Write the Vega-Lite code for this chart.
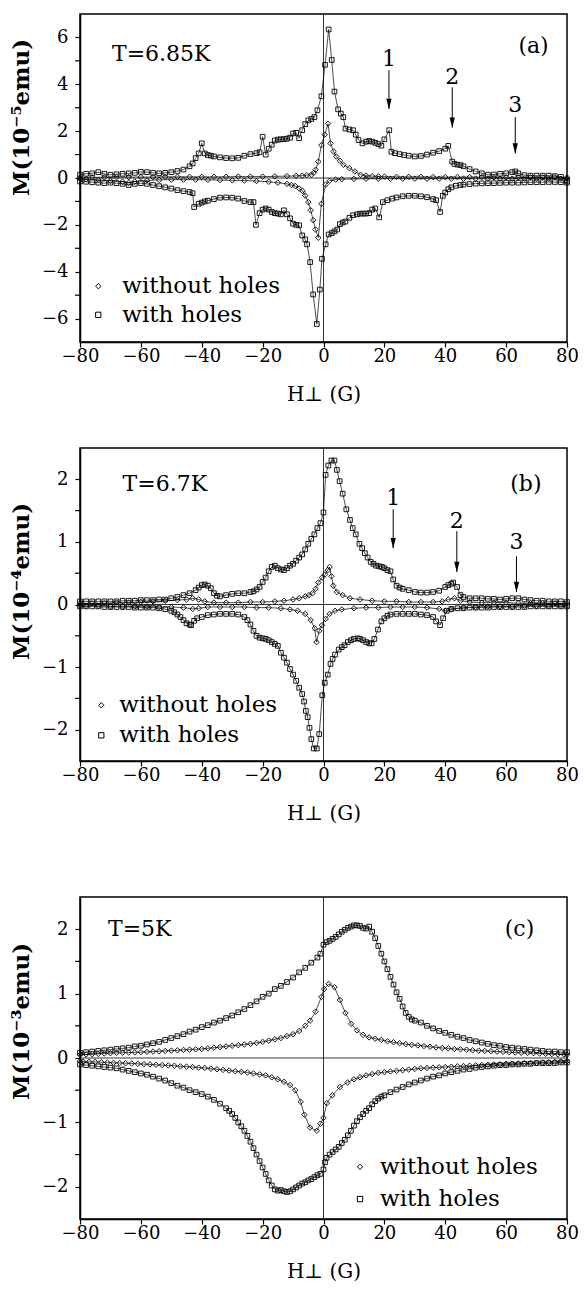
{
"$schema":"https://vega.github.io/schema/vega-lite/v6.json",
"background":"white",
"padding":{"left":9,"top":12,"right":0,"bottom":0},
"config":{
 "view":{"stroke":"black","strokeWidth":1.5},
 "axis":{"domainColor":"black","domainWidth":1.5,"tickColor":"black","tickWidth":1.2,"tickSize":5,"labelFont":"DejaVu Serif","labelFontSize":18,"labelColor":"black","labelPadding":0,"titleFont":"DejaVu Serif","titleColor":"black","titleFontSize":20,"titleFontWeight":"normal","grid":false,"labelFlush":false,"labelOverlap":false},
 "text":{"font":"DejaVu Serif","fontSize":22,"color":"black"}
},
"datasets":{
"a":[
{"k":"U","x":-80,"y":0.14},{"k":"U","x":-78,"y":0.18},{"k":"U","x":-76,"y":0.2},{"k":"U","x":-74,"y":0.25},{"k":"U","x":-72,"y":0.18},{"k":"U","x":-70,"y":0.14},{"k":"U","x":-68,"y":0.16},{"k":"U","x":-66,"y":0.18},{"k":"U","x":-64,"y":0.2},{"k":"U","x":-62,"y":0.22},{"k":"U","x":-60,"y":0.26},{"k":"U","x":-58,"y":0.25},{"k":"U","x":-56,"y":0.22},{"k":"U","x":-54,"y":0.2},{"k":"U","x":-52,"y":0.22},{"k":"U","x":-50,"y":0.25},{"k":"U","x":-48,"y":0.3},{"k":"U","x":-46,"y":0.36},{"k":"U","x":-44,"y":0.5},{"k":"U","x":-43,"y":0.62},{"k":"U","x":-42,"y":0.85},{"k":"U","x":-41,"y":1.05},{"k":"U","x":-40,"y":1.48},{"k":"U","x":-39,"y":1.05},{"k":"U","x":-38,"y":0.98},{"k":"U","x":-37,"y":0.95},{"k":"U","x":-36,"y":0.92},{"k":"U","x":-34,"y":0.88},{"k":"U","x":-32,"y":0.85},{"k":"U","x":-30,"y":0.84},{"k":"U","x":-28,"y":0.86},{"k":"U","x":-26,"y":0.95},{"k":"U","x":-24,"y":1.02},{"k":"U","x":-22,"y":1.06},{"k":"U","x":-21,"y":1.1},{"k":"U","x":-20,"y":1.76},{"k":"U","x":-19,"y":1.0},{"k":"U","x":-18,"y":1.25},{"k":"U","x":-17,"y":1.42},{"k":"U","x":-16,"y":1.6},{"k":"U","x":-15,"y":1.64},{"k":"U","x":-14,"y":1.65},{"k":"U","x":-13,"y":1.66},{"k":"U","x":-12,"y":1.68},{"k":"U","x":-11,"y":1.72},{"k":"U","x":-10,"y":1.9},{"k":"U","x":-9,"y":1.93},{"k":"U","x":-8,"y":1.7},{"k":"U","x":-7,"y":2.04},{"k":"U","x":-6,"y":2.3},{"k":"U","x":-5,"y":2.46},{"k":"U","x":-4,"y":2.52},{"k":"U","x":-3,"y":2.6},{"k":"U","x":-2,"y":2.89},{"k":"U","x":-0.7,"y":3.49},{"k":"U","x":0.5,"y":4.83},{"k":"U","x":1.7,"y":6.34},{"k":"U","x":2.7,"y":5.04},{"k":"U","x":3.6,"y":3.69},{"k":"U","x":4.8,"y":2.93},{"k":"U","x":5.7,"y":2.75},{"k":"U","x":6.5,"y":2.6},{"k":"U","x":7.2,"y":2.11},{"k":"U","x":8.5,"y":2.07},{"k":"U","x":9.7,"y":2.04},{"k":"U","x":10.6,"y":1.85},{"k":"U","x":11.5,"y":1.62},{"k":"U","x":12.8,"y":1.48},{"k":"U","x":14,"y":1.55},{"k":"U","x":15,"y":1.58},{"k":"U","x":16,"y":1.55},{"k":"U","x":17,"y":1.5},{"k":"U","x":18,"y":1.45},{"k":"U","x":19,"y":1.38},{"k":"U","x":20,"y":1.65},{"k":"U","x":21.6,"y":2.04},{"k":"U","x":22.3,"y":1.12},{"k":"U","x":23.5,"y":1.06},{"k":"U","x":25,"y":1.02},{"k":"U","x":26.5,"y":0.98},{"k":"U","x":28,"y":0.95},{"k":"U","x":30,"y":0.92},{"k":"U","x":32,"y":0.94},{"k":"U","x":34,"y":1.0},{"k":"U","x":36,"y":1.08},{"k":"U","x":38,"y":1.15},{"k":"U","x":40,"y":1.25},{"k":"U","x":41,"y":1.37},{"k":"U","x":42.3,"y":0.7},{"k":"U","x":43,"y":0.6},{"k":"U","x":44,"y":0.57},{"k":"U","x":45,"y":0.55},{"k":"U","x":46,"y":0.5},{"k":"U","x":48,"y":0.38},{"k":"U","x":50,"y":0.28},{"k":"U","x":52,"y":0.2},{"k":"U","x":54,"y":0.14},{"k":"U","x":56,"y":0.15},{"k":"U","x":58,"y":0.18},{"k":"U","x":60,"y":0.2},{"k":"U","x":62,"y":0.25},{"k":"U","x":63,"y":0.28},{"k":"U","x":64,"y":0.2},{"k":"U","x":66,"y":0.12},{"k":"U","x":68,"y":0.1},{"k":"U","x":70,"y":0.1},{"k":"U","x":72,"y":0.1},{"k":"U","x":74,"y":0.1},{"k":"U","x":76,"y":0.08},{"k":"U","x":78,"y":0.05},{"k":"U","x":80,"y":-0.12},
{"k":"D","x":-80,"y":-0.15},{"k":"D","x":-78,"y":-0.16},{"k":"D","x":-76,"y":-0.18},{"k":"D","x":-74,"y":-0.2},{"k":"D","x":-72,"y":-0.22},{"k":"D","x":-70,"y":-0.2},{"k":"D","x":-68,"y":-0.22},{"k":"D","x":-66,"y":-0.25},{"k":"D","x":-64,"y":-0.3},{"k":"D","x":-62,"y":-0.25},{"k":"D","x":-60,"y":-0.22},{"k":"D","x":-58,"y":-0.25},{"k":"D","x":-56,"y":-0.3},{"k":"D","x":-54,"y":-0.35},{"k":"D","x":-52,"y":-0.4},{"k":"D","x":-50,"y":-0.45},{"k":"D","x":-48,"y":-0.52},{"k":"D","x":-46,"y":-0.56},{"k":"D","x":-44,"y":-0.6},{"k":"D","x":-43,"y":-0.65},{"k":"D","x":-42.5,"y":-1.24},{"k":"D","x":-41,"y":-1.1},{"k":"D","x":-40,"y":-1.05},{"k":"D","x":-39,"y":-1.0},{"k":"D","x":-38,"y":-0.97},{"k":"D","x":-36,"y":-0.9},{"k":"D","x":-34,"y":-0.84},{"k":"D","x":-32,"y":-0.83},{"k":"D","x":-30,"y":-0.84},{"k":"D","x":-28,"y":-0.88},{"k":"D","x":-26,"y":-0.98},{"k":"D","x":-24,"y":-1.03},{"k":"D","x":-23,"y":-1.03},{"k":"D","x":-22.2,"y":-2.0},{"k":"D","x":-21,"y":-1.5},{"k":"D","x":-20,"y":-1.35},{"k":"D","x":-19,"y":-1.3},{"k":"D","x":-18,"y":-1.35},{"k":"D","x":-17,"y":-1.45},{"k":"D","x":-16,"y":-1.5},{"k":"D","x":-15,"y":-1.52},{"k":"D","x":-14,"y":-1.55},{"k":"D","x":-13,"y":-1.38},{"k":"D","x":-12,"y":-1.55},{"k":"D","x":-11,"y":-1.72},{"k":"D","x":-10,"y":-1.95},{"k":"D","x":-9,"y":-2.0},{"k":"D","x":-8,"y":-2.02},{"k":"D","x":-7,"y":-2.45},{"k":"D","x":-6,"y":-2.62},{"k":"D","x":-5.4,"y":-2.83},{"k":"D","x":-4.4,"y":-3.59},{"k":"D","x":-3.4,"y":-4.97},{"k":"D","x":-2.2,"y":-6.23},{"k":"D","x":-1.2,"y":-4.76},{"k":"D","x":-0.5,"y":-3.45},{"k":"D","x":0.7,"y":-2.83},{"k":"D","x":1.7,"y":-2.41},{"k":"D","x":2.7,"y":-2.35},{"k":"D","x":3.6,"y":-2.28},{"k":"D","x":4.5,"y":-2.2},{"k":"D","x":5.4,"y":-1.97},{"k":"D","x":6.3,"y":-1.9},{"k":"D","x":7.2,"y":-1.86},{"k":"D","x":8.5,"y":-1.7},{"k":"D","x":9.7,"y":-1.59},{"k":"D","x":11,"y":-1.55},{"k":"D","x":12,"y":-1.52},{"k":"D","x":13,"y":-1.52},{"k":"D","x":14,"y":-1.52},{"k":"D","x":15,"y":-1.5},{"k":"D","x":16,"y":-1.35},{"k":"D","x":17,"y":-1.3},{"k":"D","x":18.3,"y":-1.68},{"k":"D","x":19.5,"y":-1.03},{"k":"D","x":21,"y":-0.95},{"k":"D","x":22.6,"y":-0.88},{"k":"D","x":24,"y":-0.83},{"k":"D","x":26,"y":-0.78},{"k":"D","x":28,"y":-0.76},{"k":"D","x":30,"y":-0.76},{"k":"D","x":32,"y":-0.78},{"k":"D","x":34,"y":-0.82},{"k":"D","x":36,"y":-0.9},{"k":"D","x":37,"y":-0.95},{"k":"D","x":38.3,"y":-1.45},{"k":"D","x":39.2,"y":-0.76},{"k":"D","x":40,"y":-0.62},{"k":"D","x":41,"y":-0.48},{"k":"D","x":42,"y":-0.4},{"k":"D","x":43.5,"y":-0.33},{"k":"D","x":45,"y":-0.3},{"k":"D","x":46,"y":-0.28},{"k":"D","x":48,"y":-0.26},{"k":"D","x":50,"y":-0.24},{"k":"D","x":52,"y":-0.23},{"k":"D","x":54,"y":-0.22},{"k":"D","x":56,"y":-0.22},{"k":"D","x":58,"y":-0.21},{"k":"D","x":60,"y":-0.2},{"k":"D","x":62,"y":-0.2},{"k":"D","x":64,"y":-0.2},{"k":"D","x":66,"y":-0.19},{"k":"D","x":68,"y":-0.18},{"k":"D","x":70,"y":-0.18},{"k":"D","x":72,"y":-0.18},{"k":"D","x":74,"y":-0.17},{"k":"D","x":76,"y":-0.17},{"k":"D","x":78,"y":-0.18},{"k":"D","x":80,"y":-0.2},
{"k":"u","x":-80,"y":0.03},{"k":"u","x":-76,"y":0.03},{"k":"u","x":-72,"y":0.03},{"k":"u","x":-68,"y":0.04},{"k":"u","x":-64,"y":0.04},{"k":"u","x":-60,"y":0.04},{"k":"u","x":-56,"y":0.04},{"k":"u","x":-52,"y":0.05},{"k":"u","x":-48,"y":0.05},{"k":"u","x":-44,"y":0.05},{"k":"u","x":-40,"y":0.05},{"k":"u","x":-36,"y":0.05},{"k":"u","x":-32,"y":0.05},{"k":"u","x":-28,"y":0.06},{"k":"u","x":-24,"y":0.06},{"k":"u","x":-20,"y":0.06},{"k":"u","x":-16,"y":0.07},{"k":"u","x":-12,"y":0.08},{"k":"u","x":-9,"y":0.09},{"k":"u","x":-7,"y":0.1},{"k":"u","x":-5.5,"y":0.12},{"k":"u","x":-4,"y":0.14},{"k":"u","x":-3.2,"y":0.22},{"k":"u","x":-2.6,"y":0.35},{"k":"u","x":-1.7,"y":0.7},{"k":"u","x":-0.7,"y":1.4},{"k":"u","x":0.4,"y":1.85},{"k":"u","x":1.5,"y":2.32},{"k":"u","x":2.3,"y":1.48},{"k":"u","x":3.3,"y":1.13},{"k":"u","x":4.2,"y":0.92},{"k":"u","x":5.4,"y":0.73},{"k":"u","x":6.6,"y":0.56},{"k":"u","x":8.5,"y":0.42},{"k":"u","x":10.3,"y":0.28},{"k":"u","x":12.2,"y":0.14},{"k":"u","x":14,"y":0.1},{"k":"u","x":16,"y":0.08},{"k":"u","x":18,"y":0.07},{"k":"u","x":20,"y":0.06},{"k":"u","x":24,"y":0.05},{"k":"u","x":28,"y":0.05},{"k":"u","x":32,"y":0.05},{"k":"u","x":36,"y":0.04},{"k":"u","x":40,"y":0.04},{"k":"u","x":44,"y":0.04},{"k":"u","x":48,"y":0.04},{"k":"u","x":52,"y":0.04},{"k":"u","x":56,"y":0.03},{"k":"u","x":60,"y":0.03},{"k":"u","x":64,"y":0.03},{"k":"u","x":68,"y":0.03},{"k":"u","x":72,"y":0.03},{"k":"u","x":76,"y":0.03},{"k":"u","x":80,"y":0.03},
{"k":"d","x":-80,"y":-0.04},{"k":"d","x":-78,"y":-0.05},{"k":"d","x":-74,"y":-0.08},{"k":"d","x":-70,"y":-0.12},{"k":"d","x":-66,"y":-0.16},{"k":"d","x":-64,"y":-0.2},{"k":"d","x":-62,"y":-0.15},{"k":"d","x":-58,"y":-0.1},{"k":"d","x":-54,"y":-0.08},{"k":"d","x":-50,"y":-0.07},{"k":"d","x":-46,"y":-0.07},{"k":"d","x":-42,"y":-0.07},{"k":"d","x":-38,"y":-0.08},{"k":"d","x":-34,"y":-0.09},{"k":"d","x":-30,"y":-0.1},{"k":"d","x":-26,"y":-0.11},{"k":"d","x":-22,"y":-0.13},{"k":"d","x":-18,"y":-0.16},{"k":"d","x":-15,"y":-0.2},{"k":"d","x":-12,"y":-0.25},{"k":"d","x":-10.5,"y":-0.3},{"k":"d","x":-9.3,"y":-0.34},{"k":"d","x":-8,"y":-0.45},{"k":"d","x":-6.9,"y":-0.55},{"k":"d","x":-6,"y":-0.75},{"k":"d","x":-5,"y":-1.03},{"k":"d","x":-4.2,"y":-1.38},{"k":"d","x":-3.4,"y":-1.8},{"k":"d","x":-2.6,"y":-2.2},{"k":"d","x":-1.7,"y":-2.55},{"k":"d","x":-0.7,"y":-1.1},{"k":"d","x":0.7,"y":-0.28},{"k":"d","x":2,"y":-0.12},{"k":"d","x":4,"y":-0.07},{"k":"d","x":6,"y":-0.05},{"k":"d","x":10,"y":-0.04},{"k":"d","x":14,"y":-0.03},{"k":"d","x":18,"y":-0.03},{"k":"d","x":22,"y":-0.03},{"k":"d","x":26,"y":-0.03},{"k":"d","x":30,"y":-0.03},{"k":"d","x":34,"y":-0.03},{"k":"d","x":38,"y":-0.03},{"k":"d","x":42,"y":-0.03},{"k":"d","x":46,"y":-0.03},{"k":"d","x":50,"y":-0.03},{"k":"d","x":54,"y":-0.03},{"k":"d","x":58,"y":-0.03},{"k":"d","x":62,"y":-0.03},{"k":"d","x":66,"y":-0.03},{"k":"d","x":70,"y":-0.03},{"k":"d","x":74,"y":-0.03},{"k":"d","x":78,"y":-0.03},{"k":"d","x":80,"y":-0.03}
],
"b":[
{"k":"U","x":-80,"y":0.05},{"k":"U","x":-78,"y":0.05},{"k":"U","x":-76,"y":0.05},{"k":"U","x":-74,"y":0.05},{"k":"U","x":-72,"y":0.05},{"k":"U","x":-70,"y":0.05},{"k":"U","x":-68,"y":0.05},{"k":"U","x":-66,"y":0.06},{"k":"U","x":-64,"y":0.06},{"k":"U","x":-62,"y":0.06},{"k":"U","x":-60,"y":0.07},{"k":"U","x":-58,"y":0.07},{"k":"U","x":-56,"y":0.07},{"k":"U","x":-54,"y":0.08},{"k":"U","x":-52,"y":0.08},{"k":"U","x":-50,"y":0.1},{"k":"U","x":-48,"y":0.12},{"k":"U","x":-46,"y":0.15},{"k":"U","x":-44,"y":0.18},{"k":"U","x":-42,"y":0.23},{"k":"U","x":-41,"y":0.27},{"k":"U","x":-40,"y":0.31},{"k":"U","x":-39,"y":0.32},{"k":"U","x":-38,"y":0.3},{"k":"U","x":-37,"y":0.26},{"k":"U","x":-36,"y":0.18},{"k":"U","x":-35,"y":0.14},{"k":"U","x":-34,"y":0.13},{"k":"U","x":-32,"y":0.15},{"k":"U","x":-30,"y":0.17},{"k":"U","x":-28,"y":0.18},{"k":"U","x":-26,"y":0.18},{"k":"U","x":-24,"y":0.2},{"k":"U","x":-23,"y":0.21},{"k":"U","x":-22,"y":0.24},{"k":"U","x":-21,"y":0.28},{"k":"U","x":-20,"y":0.36},{"k":"U","x":-19,"y":0.43},{"k":"U","x":-18,"y":0.53},{"k":"U","x":-17,"y":0.6},{"k":"U","x":-16,"y":0.62},{"k":"U","x":-15,"y":0.58},{"k":"U","x":-14,"y":0.56},{"k":"U","x":-13,"y":0.55},{"k":"U","x":-12,"y":0.58},{"k":"U","x":-11,"y":0.62},{"k":"U","x":-10,"y":0.65},{"k":"U","x":-9,"y":0.7},{"k":"U","x":-8,"y":0.75},{"k":"U","x":-7,"y":0.8},{"k":"U","x":-6,"y":0.88},{"k":"U","x":-5,"y":0.97},{"k":"U","x":-4,"y":1.05},{"k":"U","x":-3,"y":1.12},{"k":"U","x":-2,"y":1.22},{"k":"U","x":-1,"y":1.3},{"k":"U","x":0,"y":1.47},{"k":"U","x":0.7,"y":2.07},{"k":"U","x":1.6,"y":2.22},{"k":"U","x":2.6,"y":2.3},{"k":"U","x":3.6,"y":2.3},{"k":"U","x":4.4,"y":2.15},{"k":"U","x":5.3,"y":1.97},{"k":"U","x":6.3,"y":1.77},{"k":"U","x":7.5,"y":1.52},{"k":"U","x":8.7,"y":1.35},{"k":"U","x":9.6,"y":1.22},{"k":"U","x":10.6,"y":1.12},{"k":"U","x":11.8,"y":0.97},{"k":"U","x":12.7,"y":0.9},{"k":"U","x":13.6,"y":0.82},{"k":"U","x":14.5,"y":0.75},{"k":"U","x":15.5,"y":0.68},{"k":"U","x":16.4,"y":0.65},{"k":"U","x":17.3,"y":0.62},{"k":"U","x":18.3,"y":0.61},{"k":"U","x":19.2,"y":0.6},{"k":"U","x":20,"y":0.58},{"k":"U","x":21,"y":0.55},{"k":"U","x":22,"y":0.53},{"k":"U","x":22.9,"y":0.4},{"k":"U","x":24,"y":0.3},{"k":"U","x":25,"y":0.27},{"k":"U","x":26,"y":0.25},{"k":"U","x":28,"y":0.23},{"k":"U","x":30,"y":0.2},{"k":"U","x":32,"y":0.19},{"k":"U","x":34,"y":0.19},{"k":"U","x":36,"y":0.2},{"k":"U","x":38,"y":0.22},{"k":"U","x":40,"y":0.28},{"k":"U","x":41,"y":0.31},{"k":"U","x":42,"y":0.33},{"k":"U","x":42.6,"y":0.35},{"k":"U","x":43.9,"y":0.28},{"k":"U","x":45,"y":0.15},{"k":"U","x":46,"y":0.12},{"k":"U","x":48,"y":0.1},{"k":"U","x":50,"y":0.1},{"k":"U","x":52,"y":0.1},{"k":"U","x":54,"y":0.09},{"k":"U","x":56,"y":0.09},{"k":"U","x":58,"y":0.08},{"k":"U","x":60,"y":0.09},{"k":"U","x":62,"y":0.1},{"k":"U","x":64,"y":0.1},{"k":"U","x":66,"y":0.08},{"k":"U","x":68,"y":0.07},{"k":"U","x":70,"y":0.06},{"k":"U","x":72,"y":0.06},{"k":"U","x":74,"y":0.05},{"k":"U","x":76,"y":0.05},{"k":"U","x":78,"y":0.05},{"k":"U","x":80,"y":0.04},
{"k":"D","x":-80,"y":-0.03},{"k":"D","x":-78,"y":-0.03},{"k":"D","x":-76,"y":-0.03},{"k":"D","x":-74,"y":-0.03},{"k":"D","x":-72,"y":-0.04},{"k":"D","x":-70,"y":-0.04},{"k":"D","x":-68,"y":-0.04},{"k":"D","x":-66,"y":-0.04},{"k":"D","x":-64,"y":-0.04},{"k":"D","x":-62,"y":-0.05},{"k":"D","x":-60,"y":-0.05},{"k":"D","x":-58,"y":-0.05},{"k":"D","x":-56,"y":-0.05},{"k":"D","x":-54,"y":-0.06},{"k":"D","x":-52,"y":-0.075},{"k":"D","x":-50,"y":-0.1},{"k":"D","x":-49,"y":-0.125},{"k":"D","x":-48,"y":-0.16},{"k":"D","x":-47,"y":-0.2},{"k":"D","x":-46,"y":-0.25},{"k":"D","x":-45,"y":-0.3},{"k":"D","x":-44,"y":-0.32},{"k":"D","x":-43.5,"y":-0.33},{"k":"D","x":-42.5,"y":-0.26},{"k":"D","x":-41.5,"y":-0.22},{"k":"D","x":-40,"y":-0.2},{"k":"D","x":-38,"y":-0.17},{"k":"D","x":-36,"y":-0.16},{"k":"D","x":-34,"y":-0.15},{"k":"D","x":-32,"y":-0.15},{"k":"D","x":-30,"y":-0.15},{"k":"D","x":-28,"y":-0.16},{"k":"D","x":-26,"y":-0.2},{"k":"D","x":-25,"y":-0.25},{"k":"D","x":-24,"y":-0.32},{"k":"D","x":-23,"y":-0.42},{"k":"D","x":-22,"y":-0.5},{"k":"D","x":-21,"y":-0.53},{"k":"D","x":-20,"y":-0.54},{"k":"D","x":-19,"y":-0.55},{"k":"D","x":-18,"y":-0.57},{"k":"D","x":-17,"y":-0.6},{"k":"D","x":-16,"y":-0.63},{"k":"D","x":-15,"y":-0.66},{"k":"D","x":-14,"y":-0.77},{"k":"D","x":-13,"y":-0.85},{"k":"D","x":-12,"y":-0.93},{"k":"D","x":-11,"y":-1.03},{"k":"D","x":-10,"y":-1.12},{"k":"D","x":-9,"y":-1.22},{"k":"D","x":-8,"y":-1.33},{"k":"D","x":-7,"y":-1.43},{"k":"D","x":-6.4,"y":-1.55},{"k":"D","x":-5.8,"y":-1.7},{"k":"D","x":-5.2,"y":-1.8},{"k":"D","x":-4.6,"y":-1.97},{"k":"D","x":-4,"y":-2.15},{"k":"D","x":-3.2,"y":-2.3},{"k":"D","x":-2.2,"y":-2.3},{"k":"D","x":-1.4,"y":-2.07},{"k":"D","x":-0.4,"y":-1.45},{"k":"D","x":0.4,"y":-1.25},{"k":"D","x":1.4,"y":-1.12},{"k":"D","x":2.3,"y":-0.95},{"k":"D","x":3,"y":-0.87},{"k":"D","x":3.8,"y":-0.8},{"k":"D","x":5,"y":-0.72},{"k":"D","x":6,"y":-0.68},{"k":"D","x":6.9,"y":-0.65},{"k":"D","x":8,"y":-0.6},{"k":"D","x":9,"y":-0.57},{"k":"D","x":10,"y":-0.55},{"k":"D","x":11.2,"y":-0.54},{"k":"D","x":12,"y":-0.55},{"k":"D","x":13,"y":-0.57},{"k":"D","x":14,"y":-0.6},{"k":"D","x":15,"y":-0.62},{"k":"D","x":15.8,"y":-0.62},{"k":"D","x":16.7,"y":-0.55},{"k":"D","x":17.9,"y":-0.4},{"k":"D","x":19,"y":-0.27},{"k":"D","x":20,"y":-0.22},{"k":"D","x":21,"y":-0.18},{"k":"D","x":22,"y":-0.16},{"k":"D","x":24,"y":-0.15},{"k":"D","x":26,"y":-0.15},{"k":"D","x":28,"y":-0.15},{"k":"D","x":30,"y":-0.15},{"k":"D","x":32,"y":-0.16},{"k":"D","x":34,"y":-0.17},{"k":"D","x":36,"y":-0.2},{"k":"D","x":37,"y":-0.27},{"k":"D","x":38.3,"y":-0.33},{"k":"D","x":39.3,"y":-0.22},{"k":"D","x":40.5,"y":-0.1},{"k":"D","x":42,"y":-0.07},{"k":"D","x":44,"y":-0.06},{"k":"D","x":46,"y":-0.06},{"k":"D","x":48,"y":-0.05},{"k":"D","x":50,"y":-0.05},{"k":"D","x":52,"y":-0.05},{"k":"D","x":54,"y":-0.05},{"k":"D","x":56,"y":-0.04},{"k":"D","x":58,"y":-0.04},{"k":"D","x":60,"y":-0.04},{"k":"D","x":62,"y":-0.04},{"k":"D","x":64,"y":-0.04},{"k":"D","x":66,"y":-0.04},{"k":"D","x":68,"y":-0.03},{"k":"D","x":70,"y":-0.03},{"k":"D","x":72,"y":-0.03},{"k":"D","x":74,"y":-0.03},{"k":"D","x":76,"y":-0.03},{"k":"D","x":78,"y":-0.03},{"k":"D","x":80,"y":-0.03},
{"k":"u","x":-80,"y":0.02},{"k":"u","x":-76,"y":0.02},{"k":"u","x":-72,"y":0.02},{"k":"u","x":-68,"y":0.03},{"k":"u","x":-64,"y":0.03},{"k":"u","x":-60,"y":0.04},{"k":"u","x":-56,"y":0.05},{"k":"u","x":-52,"y":0.06},{"k":"u","x":-48,"y":0.07},{"k":"u","x":-45,"y":0.08},{"k":"u","x":-43,"y":0.1},{"k":"u","x":-41,"y":0.08},{"k":"u","x":-39,"y":0.05},{"k":"u","x":-36,"y":0.03},{"k":"u","x":-32,"y":0.03},{"k":"u","x":-28,"y":0.03},{"k":"u","x":-24,"y":0.04},{"k":"u","x":-20,"y":0.04},{"k":"u","x":-16,"y":0.05},{"k":"u","x":-13,"y":0.06},{"k":"u","x":-10,"y":0.08},{"k":"u","x":-8,"y":0.1},{"k":"u","x":-6,"y":0.13},{"k":"u","x":-4.8,"y":0.15},{"k":"u","x":-3.6,"y":0.18},{"k":"u","x":-2.6,"y":0.25},{"k":"u","x":-1.7,"y":0.35},{"k":"u","x":-0.5,"y":0.43},{"k":"u","x":0.5,"y":0.48},{"k":"u","x":1.4,"y":0.55},{"k":"u","x":2,"y":0.6},{"k":"u","x":2.6,"y":0.45},{"k":"u","x":3.2,"y":0.3},{"k":"u","x":4.4,"y":0.2},{"k":"u","x":6.3,"y":0.15},{"k":"u","x":8.7,"y":0.1},{"k":"u","x":12,"y":0.08},{"k":"u","x":16,"y":0.06},{"k":"u","x":20,"y":0.05},{"k":"u","x":24,"y":0.05},{"k":"u","x":28,"y":0.04},{"k":"u","x":32,"y":0.04},{"k":"u","x":36,"y":0.04},{"k":"u","x":39,"y":0.05},{"k":"u","x":41,"y":0.08},{"k":"u","x":43,"y":0.1},{"k":"u","x":45,"y":0.06},{"k":"u","x":48,"y":0.04},{"k":"u","x":52,"y":0.03},{"k":"u","x":56,"y":0.03},{"k":"u","x":60,"y":0.03},{"k":"u","x":64,"y":0.02},{"k":"u","x":68,"y":0.02},{"k":"u","x":72,"y":0.02},{"k":"u","x":76,"y":0.02},{"k":"u","x":80,"y":0.02},
{"k":"d","x":-80,"y":-0.02},{"k":"d","x":-78,"y":-0.02},{"k":"d","x":-74,"y":-0.02},{"k":"d","x":-70,"y":-0.03},{"k":"d","x":-66,"y":-0.03},{"k":"d","x":-62,"y":-0.03},{"k":"d","x":-58,"y":-0.03},{"k":"d","x":-54,"y":-0.04},{"k":"d","x":-50,"y":-0.04},{"k":"d","x":-46,"y":-0.05},{"k":"d","x":-43,"y":-0.07},{"k":"d","x":-41,"y":-0.06},{"k":"d","x":-38,"y":-0.04},{"k":"d","x":-34,"y":-0.04},{"k":"d","x":-30,"y":-0.04},{"k":"d","x":-26,"y":-0.04},{"k":"d","x":-22,"y":-0.05},{"k":"d","x":-18,"y":-0.05},{"k":"d","x":-14,"y":-0.06},{"k":"d","x":-11,"y":-0.08},{"k":"d","x":-8.5,"y":-0.1},{"k":"d","x":-6,"y":-0.15},{"k":"d","x":-4.2,"y":-0.25},{"k":"d","x":-2.9,"y":-0.38},{"k":"d","x":-2.3,"y":-0.6},{"k":"d","x":-1.4,"y":-0.42},{"k":"d","x":-0.5,"y":-0.33},{"k":"d","x":0.7,"y":-0.23},{"k":"d","x":2,"y":-0.15},{"k":"d","x":3.8,"y":-0.1},{"k":"d","x":6,"y":-0.08},{"k":"d","x":10,"y":-0.06},{"k":"d","x":14,"y":-0.05},{"k":"d","x":18,"y":-0.05},{"k":"d","x":22,"y":-0.04},{"k":"d","x":26,"y":-0.04},{"k":"d","x":30,"y":-0.04},{"k":"d","x":34,"y":-0.05},{"k":"d","x":38,"y":-0.07},{"k":"d","x":40,"y":-0.1},{"k":"d","x":42,"y":-0.08},{"k":"d","x":46,"y":-0.05},{"k":"d","x":50,"y":-0.04},{"k":"d","x":54,"y":-0.03},{"k":"d","x":58,"y":-0.03},{"k":"d","x":62,"y":-0.03},{"k":"d","x":66,"y":-0.02},{"k":"d","x":70,"y":-0.02},{"k":"d","x":74,"y":-0.02},{"k":"d","x":78,"y":-0.02},{"k":"d","x":80,"y":-0.02}
],
"c":[
{"k":"U","x":-80,"y":0.08},{"k":"U","x":-78,"y":0.09},{"k":"U","x":-76,"y":0.1},{"k":"U","x":-74,"y":0.11},{"k":"U","x":-72,"y":0.12},{"k":"U","x":-70,"y":0.13},{"k":"U","x":-68,"y":0.14},{"k":"U","x":-66,"y":0.15},{"k":"U","x":-64,"y":0.16},{"k":"U","x":-62,"y":0.18},{"k":"U","x":-60,"y":0.19},{"k":"U","x":-58,"y":0.21},{"k":"U","x":-56,"y":0.23},{"k":"U","x":-54,"y":0.25},{"k":"U","x":-52,"y":0.28},{"k":"U","x":-50,"y":0.31},{"k":"U","x":-48,"y":0.34},{"k":"U","x":-46,"y":0.37},{"k":"U","x":-44,"y":0.41},{"k":"U","x":-42,"y":0.44},{"k":"U","x":-40,"y":0.48},{"k":"U","x":-38,"y":0.51},{"k":"U","x":-36,"y":0.55},{"k":"U","x":-34,"y":0.58},{"k":"U","x":-32,"y":0.62},{"k":"U","x":-30,"y":0.66},{"k":"U","x":-28,"y":0.71},{"k":"U","x":-26,"y":0.76},{"k":"U","x":-24,"y":0.82},{"k":"U","x":-22,"y":0.88},{"k":"U","x":-20,"y":0.95},{"k":"U","x":-18,"y":1.0},{"k":"U","x":-16,"y":1.07},{"k":"U","x":-14,"y":1.12},{"k":"U","x":-12,"y":1.18},{"k":"U","x":-10,"y":1.25},{"k":"U","x":-8,"y":1.33},{"k":"U","x":-6,"y":1.4},{"k":"U","x":-4,"y":1.48},{"k":"U","x":-2,"y":1.56},{"k":"U","x":-1,"y":1.62},{"k":"U","x":0,"y":1.76},{"k":"U","x":1,"y":1.8},{"k":"U","x":2,"y":1.82},{"k":"U","x":3,"y":1.85},{"k":"U","x":4,"y":1.88},{"k":"U","x":5,"y":1.92},{"k":"U","x":6,"y":1.96},{"k":"U","x":7,"y":1.99},{"k":"U","x":8,"y":2.02},{"k":"U","x":9,"y":2.04},{"k":"U","x":10,"y":2.06},{"k":"U","x":11,"y":2.06},{"k":"U","x":12,"y":2.05},{"k":"U","x":13,"y":2.02},{"k":"U","x":14,"y":2.01},{"k":"U","x":15,"y":2.04},{"k":"U","x":16,"y":1.96},{"k":"U","x":17,"y":1.86},{"k":"U","x":18,"y":1.74},{"k":"U","x":19,"y":1.62},{"k":"U","x":20,"y":1.5},{"k":"U","x":21,"y":1.38},{"k":"U","x":22,"y":1.26},{"k":"U","x":23,"y":1.14},{"k":"U","x":24,"y":1.02},{"k":"U","x":25,"y":0.92},{"k":"U","x":26,"y":0.8},{"k":"U","x":27,"y":0.7},{"k":"U","x":28,"y":0.64},{"k":"U","x":29,"y":0.6},{"k":"U","x":30,"y":0.58},{"k":"U","x":32,"y":0.55},{"k":"U","x":34,"y":0.5},{"k":"U","x":36,"y":0.46},{"k":"U","x":38,"y":0.42},{"k":"U","x":40,"y":0.39},{"k":"U","x":42,"y":0.36},{"k":"U","x":44,"y":0.33},{"k":"U","x":46,"y":0.31},{"k":"U","x":48,"y":0.28},{"k":"U","x":50,"y":0.26},{"k":"U","x":52,"y":0.24},{"k":"U","x":54,"y":0.22},{"k":"U","x":56,"y":0.2},{"k":"U","x":58,"y":0.19},{"k":"U","x":60,"y":0.17},{"k":"U","x":62,"y":0.16},{"k":"U","x":64,"y":0.15},{"k":"U","x":66,"y":0.14},{"k":"U","x":68,"y":0.13},{"k":"U","x":70,"y":0.12},{"k":"U","x":72,"y":0.11},{"k":"U","x":74,"y":0.1},{"k":"U","x":76,"y":0.1},{"k":"U","x":78,"y":0.09},{"k":"U","x":80,"y":0.09},
{"k":"D","x":-80,"y":-0.1},{"k":"D","x":-78,"y":-0.11},{"k":"D","x":-76,"y":-0.12},{"k":"D","x":-74,"y":-0.13},{"k":"D","x":-72,"y":-0.14},{"k":"D","x":-70,"y":-0.15},{"k":"D","x":-68,"y":-0.16},{"k":"D","x":-66,"y":-0.18},{"k":"D","x":-64,"y":-0.2},{"k":"D","x":-62,"y":-0.22},{"k":"D","x":-60,"y":-0.24},{"k":"D","x":-58,"y":-0.26},{"k":"D","x":-56,"y":-0.29},{"k":"D","x":-54,"y":-0.32},{"k":"D","x":-52,"y":-0.35},{"k":"D","x":-50,"y":-0.39},{"k":"D","x":-48,"y":-0.43},{"k":"D","x":-46,"y":-0.46},{"k":"D","x":-44,"y":-0.5},{"k":"D","x":-42,"y":-0.53},{"k":"D","x":-40,"y":-0.56},{"k":"D","x":-38,"y":-0.6},{"k":"D","x":-36,"y":-0.65},{"k":"D","x":-34,"y":-0.71},{"k":"D","x":-32,"y":-0.78},{"k":"D","x":-31,"y":-0.82},{"k":"D","x":-30,"y":-0.87},{"k":"D","x":-29,"y":-0.93},{"k":"D","x":-28,"y":-1.0},{"k":"D","x":-27,"y":-1.06},{"k":"D","x":-26,"y":-1.13},{"k":"D","x":-25,"y":-1.21},{"k":"D","x":-24,"y":-1.3},{"k":"D","x":-23,"y":-1.4},{"k":"D","x":-22,"y":-1.5},{"k":"D","x":-21,"y":-1.6},{"k":"D","x":-20,"y":-1.7},{"k":"D","x":-19,"y":-1.8},{"k":"D","x":-18,"y":-1.9},{"k":"D","x":-17,"y":-1.98},{"k":"D","x":-16,"y":-2.04},{"k":"D","x":-15,"y":-2.06},{"k":"D","x":-14,"y":-2.05},{"k":"D","x":-13,"y":-2.07},{"k":"D","x":-12,"y":-2.08},{"k":"D","x":-11,"y":-2.07},{"k":"D","x":-10,"y":-2.04},{"k":"D","x":-9,"y":-2.01},{"k":"D","x":-8,"y":-1.98},{"k":"D","x":-7,"y":-1.95},{"k":"D","x":-6,"y":-1.93},{"k":"D","x":-5,"y":-1.9},{"k":"D","x":-4,"y":-1.88},{"k":"D","x":-3,"y":-1.85},{"k":"D","x":-2,"y":-1.82},{"k":"D","x":-1,"y":-1.8},{"k":"D","x":0,"y":-1.73},{"k":"D","x":0.5,"y":-1.62},{"k":"D","x":1,"y":-1.55},{"k":"D","x":2,"y":-1.5},{"k":"D","x":3,"y":-1.46},{"k":"D","x":4,"y":-1.42},{"k":"D","x":5,"y":-1.38},{"k":"D","x":6,"y":-1.32},{"k":"D","x":7,"y":-1.27},{"k":"D","x":8,"y":-1.2},{"k":"D","x":9,"y":-1.13},{"k":"D","x":10,"y":-1.05},{"k":"D","x":11,"y":-0.98},{"k":"D","x":12,"y":-0.92},{"k":"D","x":13,"y":-0.87},{"k":"D","x":14,"y":-0.82},{"k":"D","x":15,"y":-0.78},{"k":"D","x":16,"y":-0.72},{"k":"D","x":17,"y":-0.67},{"k":"D","x":18,"y":-0.63},{"k":"D","x":19,"y":-0.6},{"k":"D","x":20,"y":-0.58},{"k":"D","x":22,"y":-0.53},{"k":"D","x":24,"y":-0.49},{"k":"D","x":26,"y":-0.45},{"k":"D","x":28,"y":-0.41},{"k":"D","x":30,"y":-0.38},{"k":"D","x":32,"y":-0.35},{"k":"D","x":34,"y":-0.32},{"k":"D","x":36,"y":-0.29},{"k":"D","x":38,"y":-0.27},{"k":"D","x":40,"y":-0.24},{"k":"D","x":42,"y":-0.22},{"k":"D","x":44,"y":-0.2},{"k":"D","x":46,"y":-0.18},{"k":"D","x":48,"y":-0.17},{"k":"D","x":50,"y":-0.15},{"k":"D","x":52,"y":-0.14},{"k":"D","x":54,"y":-0.13},{"k":"D","x":56,"y":-0.12},{"k":"D","x":58,"y":-0.11},{"k":"D","x":60,"y":-0.11},{"k":"D","x":62,"y":-0.1},{"k":"D","x":64,"y":-0.1},{"k":"D","x":66,"y":-0.09},{"k":"D","x":68,"y":-0.09},{"k":"D","x":70,"y":-0.08},{"k":"D","x":72,"y":-0.08},{"k":"D","x":74,"y":-0.08},{"k":"D","x":76,"y":-0.08},{"k":"D","x":78,"y":-0.07},{"k":"D","x":80,"y":-0.07},
{"k":"u","x":-80,"y":0.05},{"k":"u","x":-78,"y":0.055},{"k":"u","x":-76,"y":0.06},{"k":"u","x":-74,"y":0.065},{"k":"u","x":-72,"y":0.07},{"k":"u","x":-70,"y":0.075},{"k":"u","x":-68,"y":0.08},{"k":"u","x":-66,"y":0.083},{"k":"u","x":-64,"y":0.085},{"k":"u","x":-62,"y":0.088},{"k":"u","x":-60,"y":0.09},{"k":"u","x":-58,"y":0.095},{"k":"u","x":-56,"y":0.1},{"k":"u","x":-54,"y":0.105},{"k":"u","x":-52,"y":0.11},{"k":"u","x":-50,"y":0.115},{"k":"u","x":-48,"y":0.12},{"k":"u","x":-46,"y":0.125},{"k":"u","x":-44,"y":0.13},{"k":"u","x":-42,"y":0.135},{"k":"u","x":-40,"y":0.14},{"k":"u","x":-38,"y":0.15},{"k":"u","x":-36,"y":0.16},{"k":"u","x":-34,"y":0.17},{"k":"u","x":-32,"y":0.18},{"k":"u","x":-30,"y":0.19},{"k":"u","x":-28,"y":0.2},{"k":"u","x":-26,"y":0.21},{"k":"u","x":-24,"y":0.22},{"k":"u","x":-22,"y":0.235},{"k":"u","x":-20,"y":0.25},{"k":"u","x":-18,"y":0.27},{"k":"u","x":-16,"y":0.29},{"k":"u","x":-14,"y":0.31},{"k":"u","x":-12,"y":0.34},{"k":"u","x":-10,"y":0.37},{"k":"u","x":-8,"y":0.42},{"k":"u","x":-6,"y":0.5},{"k":"u","x":-4.4,"y":0.58},{"k":"u","x":-2.6,"y":0.72},{"k":"u","x":-0.7,"y":0.95},{"k":"u","x":0.2,"y":1.07},{"k":"u","x":1.7,"y":1.15},{"k":"u","x":3.6,"y":1.1},{"k":"u","x":5.4,"y":0.9},{"k":"u","x":7.2,"y":0.7},{"k":"u","x":9.1,"y":0.53},{"k":"u","x":11,"y":0.43},{"k":"u","x":13,"y":0.36},{"k":"u","x":15,"y":0.32},{"k":"u","x":17,"y":0.3},{"k":"u","x":19,"y":0.28},{"k":"u","x":21,"y":0.26},{"k":"u","x":23,"y":0.245},{"k":"u","x":25,"y":0.23},{"k":"u","x":27,"y":0.215},{"k":"u","x":29,"y":0.205},{"k":"u","x":31,"y":0.195},{"k":"u","x":33,"y":0.185},{"k":"u","x":35,"y":0.175},{"k":"u","x":37,"y":0.165},{"k":"u","x":39,"y":0.155},{"k":"u","x":41,"y":0.15},{"k":"u","x":43,"y":0.14},{"k":"u","x":45,"y":0.135},{"k":"u","x":47,"y":0.13},{"k":"u","x":49,"y":0.12},{"k":"u","x":51,"y":0.115},{"k":"u","x":53,"y":0.11},{"k":"u","x":55,"y":0.105},{"k":"u","x":57,"y":0.1},{"k":"u","x":59,"y":0.095},{"k":"u","x":61,"y":0.09},{"k":"u","x":63,"y":0.085},{"k":"u","x":65,"y":0.08},{"k":"u","x":67,"y":0.078},{"k":"u","x":69,"y":0.075},{"k":"u","x":71,"y":0.07},{"k":"u","x":73,"y":0.065},{"k":"u","x":75,"y":0.06},{"k":"u","x":77,"y":0.058},{"k":"u","x":79,"y":0.055},{"k":"u","x":80,"y":0.05},
{"k":"d","x":-80,"y":-0.05},{"k":"d","x":-79,"y":-0.055},{"k":"d","x":-77,"y":-0.058},{"k":"d","x":-75,"y":-0.06},{"k":"d","x":-73,"y":-0.065},{"k":"d","x":-71,"y":-0.07},{"k":"d","x":-69,"y":-0.075},{"k":"d","x":-67,"y":-0.078},{"k":"d","x":-65,"y":-0.08},{"k":"d","x":-63,"y":-0.085},{"k":"d","x":-61,"y":-0.09},{"k":"d","x":-59,"y":-0.095},{"k":"d","x":-57,"y":-0.1},{"k":"d","x":-55,"y":-0.105},{"k":"d","x":-53,"y":-0.11},{"k":"d","x":-51,"y":-0.115},{"k":"d","x":-49,"y":-0.12},{"k":"d","x":-47,"y":-0.13},{"k":"d","x":-45,"y":-0.135},{"k":"d","x":-43,"y":-0.14},{"k":"d","x":-41,"y":-0.15},{"k":"d","x":-39,"y":-0.155},{"k":"d","x":-37,"y":-0.165},{"k":"d","x":-35,"y":-0.175},{"k":"d","x":-33,"y":-0.185},{"k":"d","x":-31,"y":-0.195},{"k":"d","x":-29,"y":-0.205},{"k":"d","x":-27,"y":-0.215},{"k":"d","x":-25,"y":-0.225},{"k":"d","x":-23,"y":-0.24},{"k":"d","x":-21,"y":-0.255},{"k":"d","x":-19,"y":-0.27},{"k":"d","x":-17,"y":-0.3},{"k":"d","x":-15,"y":-0.33},{"k":"d","x":-13,"y":-0.37},{"k":"d","x":-11,"y":-0.42},{"k":"d","x":-9.3,"y":-0.5},{"k":"d","x":-7.5,"y":-0.68},{"k":"d","x":-6.3,"y":-0.88},{"k":"d","x":-4.4,"y":-1.08},{"k":"d","x":-2.2,"y":-1.13},{"k":"d","x":-1,"y":-1.02},{"k":"d","x":0,"y":-0.93},{"k":"d","x":1.1,"y":-0.7},{"k":"d","x":2.9,"y":-0.58},{"k":"d","x":5.4,"y":-0.45},{"k":"d","x":7.9,"y":-0.38},{"k":"d","x":10,"y":-0.33},{"k":"d","x":12,"y":-0.3},{"k":"d","x":14,"y":-0.27},{"k":"d","x":16,"y":-0.25},{"k":"d","x":18,"y":-0.23},{"k":"d","x":20,"y":-0.22},{"k":"d","x":22,"y":-0.21},{"k":"d","x":24,"y":-0.2},{"k":"d","x":26,"y":-0.19},{"k":"d","x":28,"y":-0.18},{"k":"d","x":30,"y":-0.17},{"k":"d","x":32,"y":-0.16},{"k":"d","x":34,"y":-0.155},{"k":"d","x":36,"y":-0.15},{"k":"d","x":38,"y":-0.145},{"k":"d","x":40,"y":-0.14},{"k":"d","x":42,"y":-0.135},{"k":"d","x":44,"y":-0.13},{"k":"d","x":46,"y":-0.125},{"k":"d","x":48,"y":-0.12},{"k":"d","x":50,"y":-0.115},{"k":"d","x":52,"y":-0.11},{"k":"d","x":54,"y":-0.105},{"k":"d","x":56,"y":-0.1},{"k":"d","x":58,"y":-0.095},{"k":"d","x":60,"y":-0.09},{"k":"d","x":62,"y":-0.088},{"k":"d","x":64,"y":-0.085},{"k":"d","x":66,"y":-0.08},{"k":"d","x":68,"y":-0.078},{"k":"d","x":70,"y":-0.075},{"k":"d","x":72,"y":-0.07},{"k":"d","x":74,"y":-0.065},{"k":"d","x":76,"y":-0.06},{"k":"d","x":78,"y":-0.055},{"k":"d","x":80,"y":-0.05}
]
},
"spacing":71,
"vconcat":[
{"spacing":41,"vconcat":[
{"width":487,"height":328,
 "layer":[
  {"data":{"values":[{"x":0}]},"mark":{"type":"rule","color":"black","strokeWidth":0.8},"encoding":{"x":{"field":"x","type":"quantitative"}}},
  {"data":{"values":[{"y":0}]},"mark":{"type":"rule","color":"black","strokeWidth":0.8},"encoding":{"y":{"field":"y","type":"quantitative"}}},
  {"data":{"values":[{"y":-5},{"y":-3},{"y":-1},{"y":1},{"y":3},{"y":5}]},"mark":{"type":"tick","orient":"horizontal","color":"black","size":5,"thickness":1.2,"xOffset":-2.5,"opacity":1},"encoding":{"y":{"field":"y","type":"quantitative"},"x":{"datum":-80}}},
  {"data":{"name":"a"},"mark":{"type":"line","color":"black","strokeWidth":0.7},
   "encoding":{"x":{"field":"x","type":"quantitative","scale":{"domain":[-80,80],"nice":false,"zero":false},"axis":{"title":"H⊥ (G)","values":[-80,-70,-60,-50,-40,-30,-20,-10,0,10,20,30,40,50,60,70,80],"format":"d","labelExpr":"datum.value % 20 === 0 ? datum.label : ''","titlePadding":19}},
    "y":{"field":"y","type":"quantitative","scale":{"domain":[-7,7],"nice":false,"zero":false},"axis":{"title":"M(10⁻⁵emu)","titleFontWeight":"bold","titleFontSize":23,"titleY":103,"values":[-6,-4,-2,0,2,4,6],"titlePadding":8,"labelPadding":7}},
    "detail":{"field":"k"}}},
  {"data":{"name":"a"},"transform":[{"filter":{"field":"k","oneOf":["U","D"]}}],"mark":{"type":"point","shape":"square","filled":false,"color":"black","size":22,"strokeWidth":0.9,"opacity":1},"encoding":{"x":{"field":"x","type":"quantitative"},"y":{"field":"y","type":"quantitative"}}},
  {"data":{"name":"a"},"transform":[{"filter":{"field":"k","oneOf":["u","d"]}}],"mark":{"type":"point","shape":"diamond","filled":false,"color":"black","size":30,"strokeWidth":0.9,"opacity":1},"encoding":{"x":{"field":"x","type":"quantitative"},"y":{"field":"y","type":"quantitative"}}},
  {"data":{"values":[{"x":-74,"y":-4.62,"t":"without holes"},{"x":-74,"y":-5.84,"t":"with holes"}]},"mark":{"type":"point","filled":false,"color":"black","size":28,"strokeWidth":1,"opacity":1},"encoding":{"x":{"field":"x","type":"quantitative"},"y":{"field":"y","type":"quantitative"},"shape":{"field":"t","type":"nominal","scale":{"domain":["without holes","with holes"],"range":["diamond","square"]},"legend":null}}},
  {"data":{"values":[{"x":-74,"y":-4.62,"t":"without holes"},{"x":-74,"y":-5.84,"t":"with holes"}]},"mark":{"type":"text","align":"left","baseline":"middle","dx":24,"fontSize":23},"encoding":{"x":{"field":"x","type":"quantitative"},"y":{"field":"y","type":"quantitative"},"text":{"field":"t"}}},
  {"data":{"values":[{"x":-69.5,"y":5.28,"t":"T=6.85K"}]},"mark":{"type":"text","align":"left","baseline":"middle"},"encoding":{"x":{"field":"x","type":"quantitative"},"y":{"field":"y","type":"quantitative"},"text":{"field":"t"}}},
  {"data":{"values":[{"x":69,"y":5.63,"t":"(a)"},{"x":21.5,"y":5.07,"t":"1"},{"x":42.3,"y":4.3,"t":"2"},{"x":63,"y":3.1,"t":"3"}]},"mark":{"type":"text","align":"center","baseline":"middle"},"encoding":{"x":{"field":"x","type":"quantitative"},"y":{"field":"y","type":"quantitative"},"text":{"field":"t"}}},
  {"data":{"values":[{"x":21.5,"y":4.6,"y2":2.95},{"x":42.3,"y":3.87,"y2":2.15},{"x":63,"y":2.6,"y2":1.05}]},"mark":{"type":"rule","color":"black","strokeWidth":1},"encoding":{"x":{"field":"x","type":"quantitative"},"y":{"field":"y","type":"quantitative"},"y2":{"field":"y2"}}},
  {"data":{"values":[{"x":21.5,"y":2.95},{"x":42.3,"y":2.15},{"x":63,"y":1.05}]},"mark":{"type":"point","shape":"M-0.5,-1L0.5,-1L0,1Z","filled":true,"color":"black","size":110,"yOffset":-5,"opacity":1},"encoding":{"x":{"field":"x","type":"quantitative"},"y":{"field":"y","type":"quantitative"}}}
 ]},
{"width":487,"height":313,
 "layer":[
  {"data":{"values":[{"x":0}]},"mark":{"type":"rule","color":"black","strokeWidth":0.8},"encoding":{"x":{"field":"x","type":"quantitative"}}},
  {"data":{"values":[{"y":0}]},"mark":{"type":"rule","color":"black","strokeWidth":0.8},"encoding":{"y":{"field":"y","type":"quantitative"}}},
  {"data":{"values":[{"y":-1.5},{"y":-0.5},{"y":0.5},{"y":1.5}]},"mark":{"type":"tick","orient":"horizontal","color":"black","size":5,"thickness":1.2,"xOffset":-2.5,"opacity":1},"encoding":{"y":{"field":"y","type":"quantitative"},"x":{"datum":-80}}},
  {"data":{"name":"b"},"mark":{"type":"line","color":"black","strokeWidth":0.7},
   "encoding":{"x":{"field":"x","type":"quantitative","scale":{"domain":[-80,80],"nice":false,"zero":false},"axis":{"title":"H⊥ (G)","values":[-80,-70,-60,-50,-40,-30,-20,-10,0,10,20,30,40,50,60,70,80],"format":"d","labelExpr":"datum.value % 20 === 0 ? datum.label : ''","titlePadding":19}},
    "y":{"field":"y","type":"quantitative","scale":{"domain":[-2.5,2.5],"nice":false,"zero":false},"axis":{"title":"M(10⁻⁴emu)","titleFontWeight":"bold","titleFontSize":23,"titleY":133,"values":[-2,-1,0,1,2],"format":"d","titlePadding":8,"labelPadding":7}},
    "detail":{"field":"k"}}},
  {"data":{"name":"b"},"transform":[{"filter":{"field":"k","oneOf":["U","D"]}}],"mark":{"type":"point","shape":"square","filled":false,"color":"black","size":22,"strokeWidth":0.9,"opacity":1},"encoding":{"x":{"field":"x","type":"quantitative"},"y":{"field":"y","type":"quantitative"}}},
  {"data":{"name":"b"},"transform":[{"filter":{"field":"k","oneOf":["u","d"]}}],"mark":{"type":"point","shape":"diamond","filled":false,"color":"black","size":30,"strokeWidth":0.9,"opacity":1},"encoding":{"x":{"field":"x","type":"quantitative"},"y":{"field":"y","type":"quantitative"}}},
  {"data":{"values":[{"x":-73,"y":-1.61,"t":"without holes"},{"x":-73,"y":-2.09,"t":"with holes"}]},"mark":{"type":"point","filled":false,"color":"black","size":28,"strokeWidth":1,"opacity":1},"encoding":{"x":{"field":"x","type":"quantitative"},"y":{"field":"y","type":"quantitative"},"shape":{"field":"t","type":"nominal","scale":{"domain":["without holes","with holes"],"range":["diamond","square"]},"legend":null}}},
  {"data":{"values":[{"x":-73,"y":-1.61,"t":"without holes"},{"x":-73,"y":-2.09,"t":"with holes"}]},"mark":{"type":"text","align":"left","baseline":"middle","dx":18,"fontSize":23},"encoding":{"x":{"field":"x","type":"quantitative"},"y":{"field":"y","type":"quantitative"},"text":{"field":"t"}}},
  {"data":{"values":[{"x":-66,"y":1.93,"t":"T=6.7K"}]},"mark":{"type":"text","align":"left","baseline":"middle"},"encoding":{"x":{"field":"x","type":"quantitative"},"y":{"field":"y","type":"quantitative"},"text":{"field":"t"}}},
  {"data":{"values":[{"x":66.5,"y":1.93,"t":"(b)"},{"x":22.9,"y":1.7,"t":"1"},{"x":43.8,"y":1.33,"t":"2"},{"x":63.4,"y":1.0,"t":"3"}]},"mark":{"type":"text","align":"center","baseline":"middle"},"encoding":{"x":{"field":"x","type":"quantitative"},"y":{"field":"y","type":"quantitative"},"text":{"field":"t"}}},
  {"data":{"values":[{"x":22.9,"y":1.52,"y2":0.9},{"x":43.8,"y":1.17,"y2":0.52},{"x":63.4,"y":0.77,"y2":0.2}]},"mark":{"type":"rule","color":"black","strokeWidth":1},"encoding":{"x":{"field":"x","type":"quantitative"},"y":{"field":"y","type":"quantitative"},"y2":{"field":"y2"}}},
  {"data":{"values":[{"x":22.9,"y":0.9},{"x":43.8,"y":0.52},{"x":63.4,"y":0.2}]},"mark":{"type":"point","shape":"M-0.5,-1L0.5,-1L0,1Z","filled":true,"color":"black","size":110,"yOffset":-5,"opacity":1},"encoding":{"x":{"field":"x","type":"quantitative"},"y":{"field":"y","type":"quantitative"}}}
 ]}
]},
{"width":487,"height":322,
 "layer":[
  {"data":{"values":[{"x":0}]},"mark":{"type":"rule","color":"black","strokeWidth":0.8},"encoding":{"x":{"field":"x","type":"quantitative"}}},
  {"data":{"values":[{"y":0}]},"mark":{"type":"rule","color":"black","strokeWidth":0.8},"encoding":{"y":{"field":"y","type":"quantitative"}}},
  {"data":{"values":[{"y":-1.5},{"y":-0.5},{"y":0.5},{"y":1.5}]},"mark":{"type":"tick","orient":"horizontal","color":"black","size":5,"thickness":1.2,"xOffset":-2.5,"opacity":1},"encoding":{"y":{"field":"y","type":"quantitative"},"x":{"datum":-80}}},
  {"data":{"name":"c"},"mark":{"type":"line","color":"black","strokeWidth":0.7},
   "encoding":{"x":{"field":"x","type":"quantitative","scale":{"domain":[-80,80],"nice":false,"zero":false},"axis":{"title":"H⊥ (G)","values":[-80,-70,-60,-50,-40,-30,-20,-10,0,10,20,30,40,50,60,70,80],"format":"d","labelExpr":"datum.value % 20 === 0 ? datum.label : ''","titlePadding":19}},
    "y":{"field":"y","type":"quantitative","scale":{"domain":[-2.5,2.5],"nice":false,"zero":false},"axis":{"title":"M(10⁻³emu)","titleFontWeight":"bold","titleFontSize":23,"titleY":124,"values":[-2,-1,0,1,2],"format":"d","titlePadding":8,"labelPadding":7}},
    "detail":{"field":"k"}}},
  {"data":{"name":"c"},"transform":[{"filter":{"field":"k","oneOf":["U","D"]}}],"mark":{"type":"point","shape":"square","filled":false,"color":"black","size":22,"strokeWidth":0.9,"opacity":1},"encoding":{"x":{"field":"x","type":"quantitative"},"y":{"field":"y","type":"quantitative"}}},
  {"data":{"name":"c"},"transform":[{"filter":{"field":"k","oneOf":["u","d"]}}],"mark":{"type":"point","shape":"diamond","filled":false,"color":"black","size":30,"strokeWidth":0.9,"opacity":1},"encoding":{"x":{"field":"x","type":"quantitative"},"y":{"field":"y","type":"quantitative"}}},
  {"data":{"values":[{"x":12,"y":-1.69,"t":"without holes"},{"x":12,"y":-2.19,"t":"with holes"}]},"mark":{"type":"point","filled":false,"color":"black","size":28,"strokeWidth":1,"opacity":1},"encoding":{"x":{"field":"x","type":"quantitative"},"y":{"field":"y","type":"quantitative"},"shape":{"field":"t","type":"nominal","scale":{"domain":["without holes","with holes"],"range":["diamond","square"]},"legend":null}}},
  {"data":{"values":[{"x":12,"y":-1.69,"t":"without holes"},{"x":12,"y":-2.19,"t":"with holes"}]},"mark":{"type":"text","align":"left","baseline":"middle","dx":20,"fontSize":23},"encoding":{"x":{"field":"x","type":"quantitative"},"y":{"field":"y","type":"quantitative"},"text":{"field":"t"}}},
  {"data":{"values":[{"x":-70.8,"y":2.0,"t":"T=5K"}]},"mark":{"type":"text","align":"left","baseline":"middle"},"encoding":{"x":{"field":"x","type":"quantitative"},"y":{"field":"y","type":"quantitative"},"text":{"field":"t"}}},
  {"data":{"values":[{"x":64.4,"y":2.0,"t":"(c)"}]},"mark":{"type":"text","align":"center","baseline":"middle"},"encoding":{"x":{"field":"x","type":"quantitative"},"y":{"field":"y","type":"quantitative"},"text":{"field":"t"}}}
 ]}
]
}
